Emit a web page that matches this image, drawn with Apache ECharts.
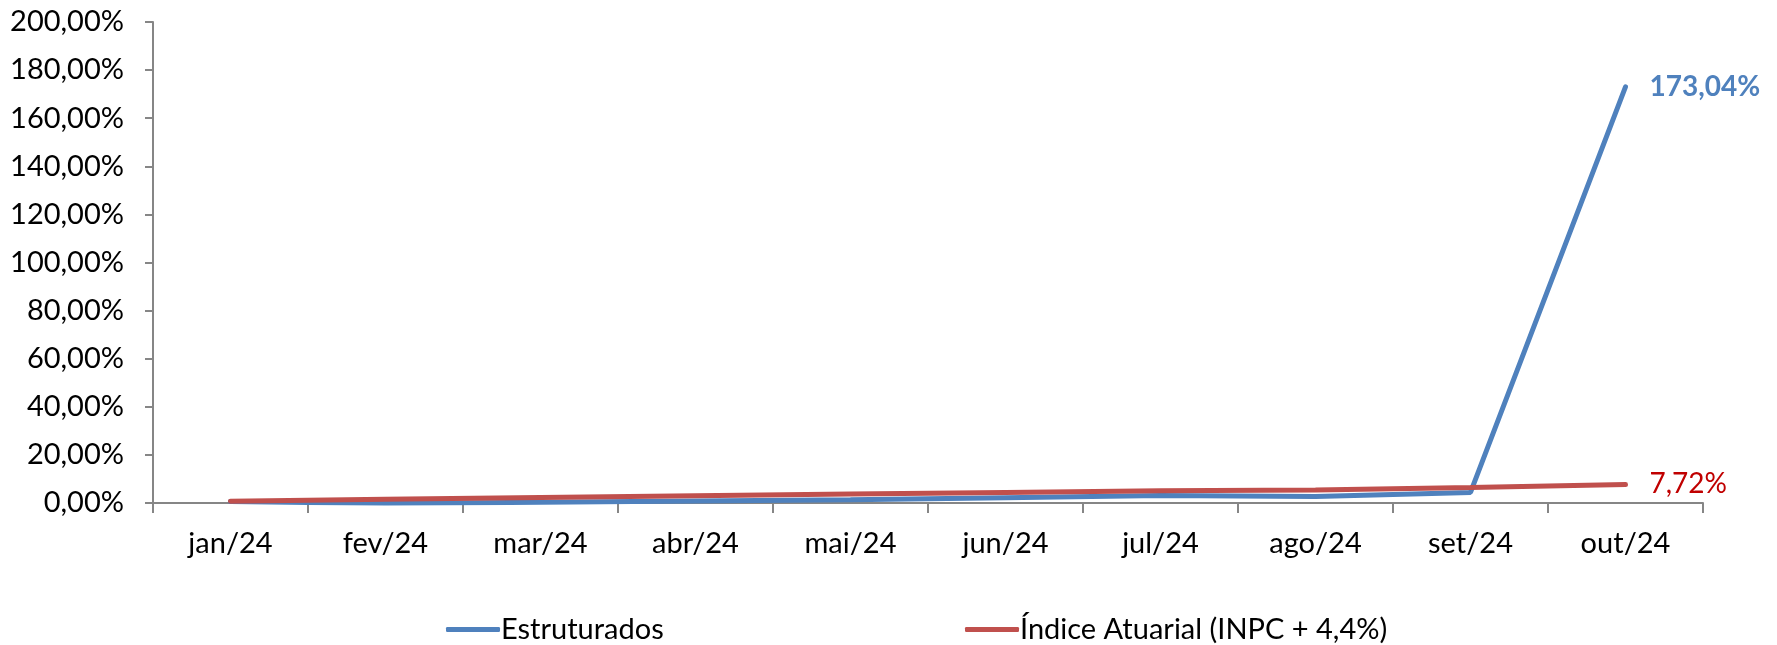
<!DOCTYPE html>
<head>
    <meta charset="utf-8">
    <title>Estruturados x Indice Atuarial</title>
    <script src="https://cdn.jsdelivr.net/npm/echarts@6/dist/echarts.min.js"></script>
    <style>
        html, body { margin: 0; padding: 0; background: #fff; }
        #chart { width: 1777px; height: 645px; }
    </style>
</head>
<body>
    <div id="chart"></div>
    <script type="text/javascript">
        // categorias e séries (%)
        var meses = ['jan/24', 'fev/24', 'mar/24', 'abr/24', 'mai/24', 'jun/24', 'jul/24', 'ago/24', 'set/24', 'out/24'];
        var estruturados = [0.6, -0.2, 0.3, 0.8, 1.3, 2.2, 3.1, 2.7, 4.4, 173.04];
        var indiceAtuarial = [0.7, 1.6, 2.3, 3.0, 3.7, 4.4, 5.1, 5.4, 6.4, 7.72];
        var yTicks = [0, 20, 40, 60, 80, 100, 120, 140, 160, 180, 200];

        var fonte = 'Lato';
        var myChart = echarts.init(document.getElementById('chart'));

        function pct(v) {
            return v.toFixed(2).replace('.', ',') + '%';
        }

        var option = {
            animation: false,
            textStyle: { fontFamily: fonte },
            grid: { left: 153, right: 74, top: 22, bottom: 142 },
            legend: [
                {
                    data: ['Estruturados'],
                    left: 441, top: 610,
                    icon: 'roundRect',
                    itemWidth: 54, itemHeight: 5, itemGap: 0,
                    textStyle: { fontSize: 29, color: '#000', fontFamily: fonte, padding: [0, 0, 0, -4] }
                },
                {
                    data: ['Índice Atuarial (INPC + 4,4%)'],
                    left: 960, top: 610,
                    icon: 'roundRect',
                    itemWidth: 54, itemHeight: 5,
                    textStyle: { fontSize: 29, color: '#000', fontFamily: fonte, padding: [0, 0, 0, -4] }
                }
            ],
            xAxis: {
                type: 'category',
                data: meses,
                boundaryGap: true,
                axisLine: { lineStyle: { color: '#868686', width: 2 } },
                axisTick: { show: true, length: 10, lineStyle: { color: '#868686', width: 2 } },
                axisLabel: { fontSize: 29, color: '#000', margin: 26 }
            },
            yAxis: {
                type: 'value',
                min: yTicks[0],
                max: yTicks[yTicks.length - 1],
                interval: 20,
                axisLine: { show: true, lineStyle: { color: '#868686', width: 2 } },
                axisTick: { show: true, length: 8, lineStyle: { color: '#868686', width: 2 } },
                splitLine: { show: false },
                axisLabel: {
                    fontSize: 29, color: '#000', margin: 29,
                    formatter: function (v) { return pct(v); }
                }
            },
            series: [
                {
                    name: 'Estruturados',
                    type: 'line',
                    data: estruturados,
                    symbol: 'none',
                    lineStyle: { color: '#4F81BD', width: 5, cap: 'round' },
                    itemStyle: { color: '#4F81BD' },
                    endLabel: {
                        show: true, distance: 24,
                        fontSize: 28, fontWeight: 'bold', color: '#4F81BD',
                        formatter: function (p) { return pct(p.value); }
                    }
                },
                {
                    name: 'Índice Atuarial (INPC + 4,4%)',
                    type: 'line',
                    data: indiceAtuarial,
                    symbol: 'none',
                    lineStyle: { color: '#C0504D', width: 5, cap: 'round' },
                    itemStyle: { color: '#C0504D' },
                    endLabel: {
                        show: true, distance: 24,
                        fontSize: 28, color: '#C00000',
                        formatter: function (p) { return pct(p.value); }
                    }
                }
            ]
        };

        myChart.setOption(option);
    </script>
</body>
